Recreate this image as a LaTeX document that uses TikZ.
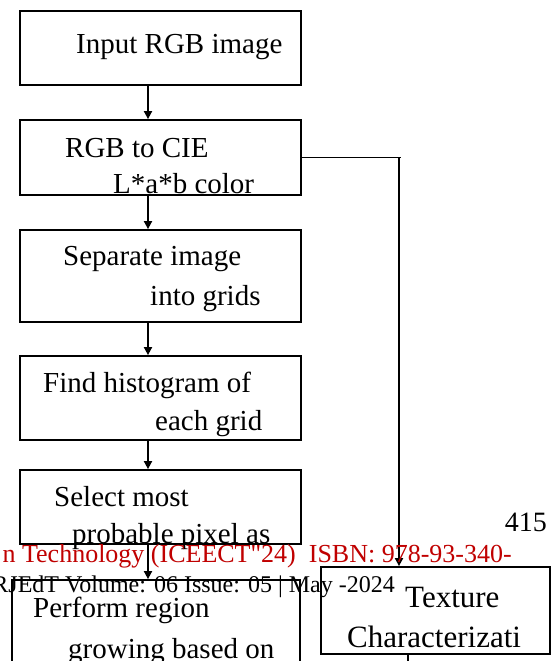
\documentclass[tikz,border=0pt]{standalone}
\usepackage{fontspec}
\setmainfont{Liberation Serif}
\newfontfamily\plainserif{Liberation Serif}
\usetikzlibrary{arrows.meta}
\definecolor{hdrred}{RGB}{192,0,0}
\tikzset{
  box/.style={draw=black, line width=1.8pt, inner sep=0pt, rectangle},
  conn/.style={draw=black, line width=1.8pt},
  arr/.style={conn, -{Triangle[length=8pt,width=8pt]}},
  lbl/.style={anchor=base west, inner sep=0pt, font=\fontsize{29}{29}\selectfont},
  biglbl/.style={anchor=base west, inner sep=0pt, font=\fontsize{31}{31}\selectfont},
  redtxt/.style={anchor=base east, inner sep=0pt, text=hdrred, font=\plainserif\fontsize{26}{26}\selectfont},
  foot/.style={anchor=base east, inner sep=0pt, font=\fontsize{24}{24}\selectfont},
  pagenum/.style={anchor=base east, inner sep=0pt, font=\fontsize{28}{28}\selectfont}
}
\begin{document}
\begin{tikzpicture}[x=1pt,y=-1pt]
\useasboundingbox (0,0) rectangle (551,661);
\clip (0,0) rectangle (551,661);
% boxes
\node[box, minimum width=281pt, minimum height=74pt] (b1) at (160.5,48) {};
\node[box, minimum width=281pt, minimum height=75pt] (b2) at (160.5,157.5) {};
\node[box, minimum width=281pt, minimum height=92pt] (b3) at (160.5,276) {};
\node[box, minimum width=281pt, minimum height=84pt] (b4) at (160.5,398) {};
\node[box, minimum width=281pt, minimum height=74pt] (b5) at (160.5,507) {};
\node[box, minimum width=288pt, minimum height=120pt] (b6) at (156,640) {};
\node[box, minimum width=229pt, minimum height=87pt] (tex) at (435.5,610.5) {};
% connector helpers
\coordinate (ax) at (148,0);
\coordinate (c1) at (399,157.5);
\coordinate (c2) at (408,665);
% connectors
\draw[arr] (b1.south -| ax) -- (b2.north -| ax);
\draw[arr] (b2.south -| ax) -- (b3.north -| ax);
\draw[arr] (b3.south -| ax) -- (b4.north -| ax);
\draw[arr] (b4.south -| ax) -- (b5.north -| ax);
\draw[arr] (b5.south -| ax) -- (b6.north -| ax);
\draw[conn] (b2.east) -- ([xshift=2pt]c1);
\draw[arr] (c1) -- (c1 |- tex.north);
\draw[conn] (tex.south -| c2) -- (c2);
% box texts
\node[lbl] (t1) at (76,53) {Input RGB image};
\node[lbl] (t2a) at (65,157) {RGB to CIE};
\node[lbl] (t2b) at (113,193) {L*a*b color};
\node[lbl] (t3a) at (63,265) {Separate image};
\node[lbl] (t3b) at (150,305) {into grids};
\node[lbl] (t4a) at (43,392) {Find histogram of};
\node[lbl] (t4b) at (155,430) {each grid};
\node[lbl] (t5a) at (54,506) {Select most};
\node[lbl] (t5b) at (72,543) {probable pixel as};
\node[lbl] (t6a) at (33,617) {Perform region};
\node[lbl] (t6b) at (68,658) {growing based on};
\node[biglbl] (t7a) at (405,607) {Texture};
\node[biglbl] (t7b) at (347,647) {Characterizati};
% page header/footer texts
\node[pagenum] (pn) at (547,531) {415};
\node[redtxt] (hdr) at (512,562) {n Technology (ICEECT"24)\ \ ISBN: 978-93-340-};
\node[foot] (ft) at (395,592) {RJEdT Volume: 06 Issue: 05 | May -2024};
\end{tikzpicture}
\end{document}
